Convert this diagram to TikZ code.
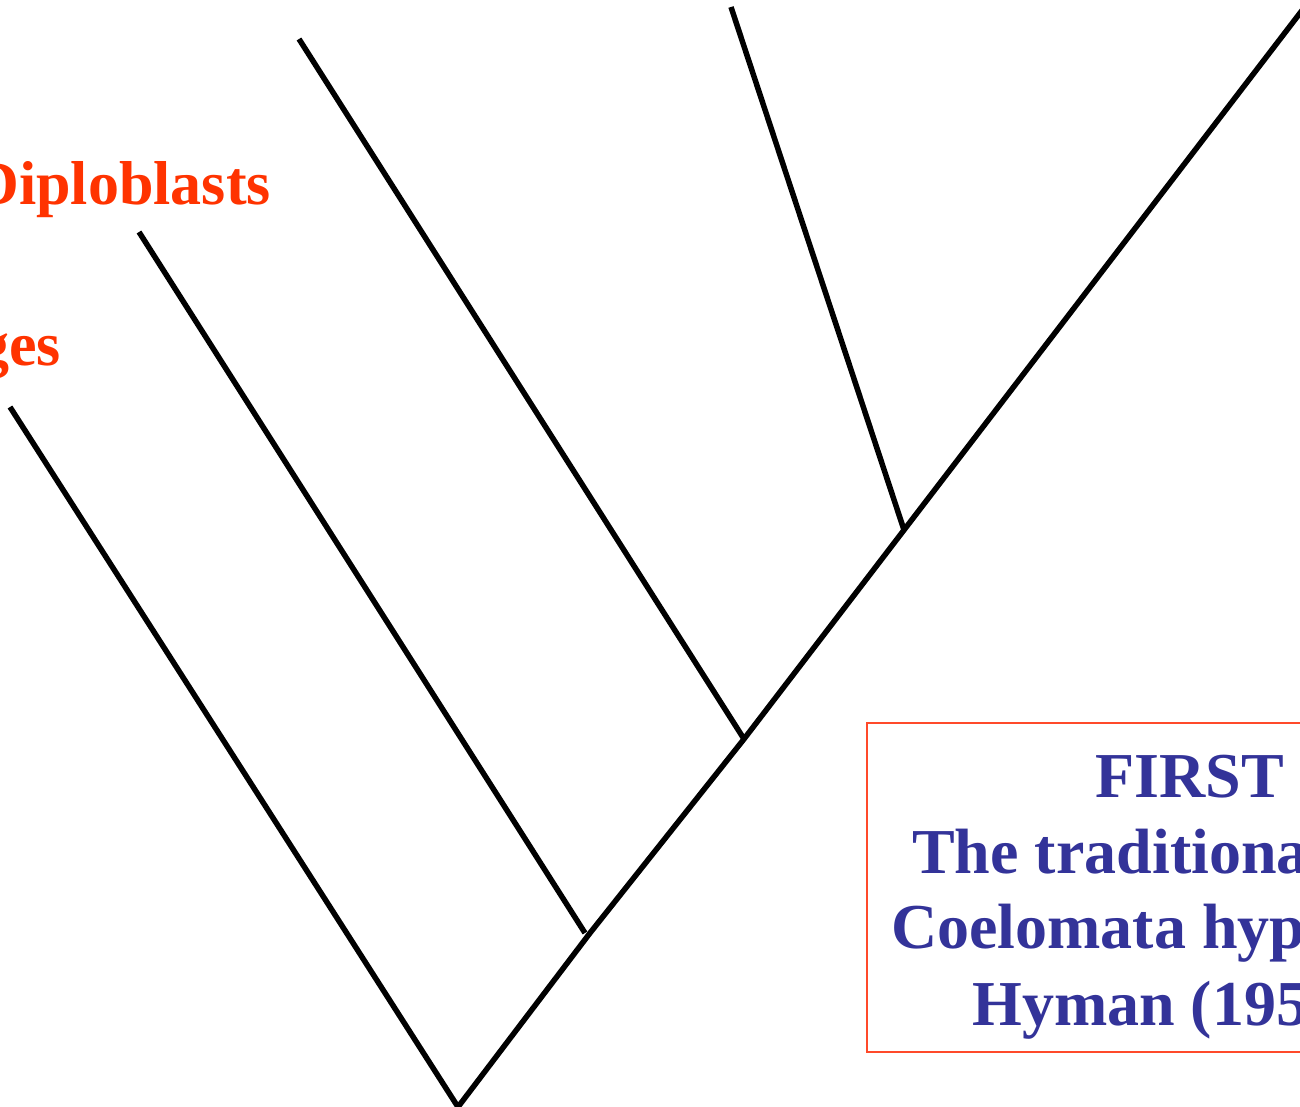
\documentclass[tikz,border=0pt]{standalone}
\usepackage{fontspec}
\setmainfont{Liberation Serif}
\definecolor{labred}{HTML}{FF3300}
\definecolor{boxred}{HTML}{FF4A2A}
\definecolor{boxblue}{HTML}{333399}
\begin{document}
\begin{tikzpicture}[x=1pt,y=-1pt,
  branch/.style={line width=5.5pt,black},
  grouplabel/.style={inner sep=0pt,text=labred,font=\fontsize{62}{70}\selectfont\bfseries},
  boxtext/.style={inner sep=0pt,anchor=base west,text=boxblue,font=\fontsize{64}{76}\selectfont\bfseries},
  framebox/.style={draw=boxred,line width=1.8pt}]
\useasboundingbox (0,0) rectangle (1300,1107);
\clip (0,0) rectangle (1300,1107);
% tree points
\coordinate (root) at (458,1107);
\coordinate (top) at (1310,0);
\coordinate (j2) at (590,933);
\coordinate (j3) at (744,739);
\coordinate (j4) at (904,530);
\coordinate (t1) at (10,407);
\coordinate (t2) at (139,232);
\coordinate (t3) at (299,39);
\coordinate (t4) at (731,7);
\coordinate (e2) at (585,933);
% branches
\draw[branch] (root) -- (j2) -- (j3) -- (j4) -- (top);
\draw[branch] (root) -- (t1);
\draw[branch] (e2) -- (t2);
\draw[branch] (j3) -- (t3);
\draw[branch] (j4) -- (t4);
% labels
\node[grouplabel,anchor=base east] (dip) at (271,205) {Diploblasts};
\node[grouplabel,anchor=base east] (spo) at (61,365) {ges};
% box
\draw[framebox] (1320,723) -- (867,723) -- (867,1052) -- (1320,1052);
\node[boxtext] (l1) at (1095,797) {FIRST};
\node[boxtext] (l2) at (912,873) {The traditiona};
\node[boxtext] (l3) at (891,948) {Coelomata hyp};
\node[boxtext] (l4) at (972,1025) {Hyman (195};
\end{tikzpicture}
\end{document}
